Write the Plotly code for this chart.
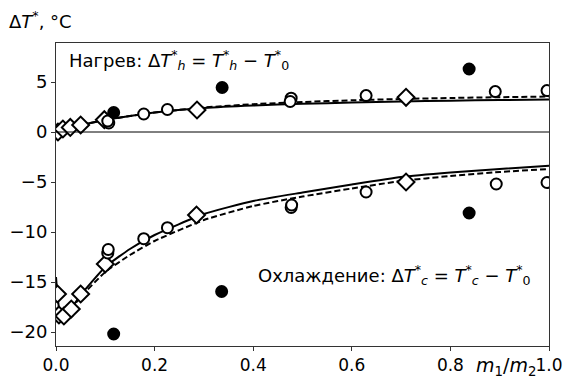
import plotly.graph_objects as go

# ---- data ----
# heating (Нагрев)
heat_filled_x = [0.117, 0.337, 0.838]
heat_filled_y = [1.95, 4.45, 6.3]
heat_open_x = [0.107, 0.105, 0.178, 0.226, 0.477, 0.475, 0.629, 0.891, 0.996]
heat_open_y = [0.9, 1.1, 1.8, 2.25, 3.38, 3.05, 3.64, 4.04, 4.14]
heat_diam_x = [0.004, 0.014, 0.029, 0.05, 0.098, 0.286, 0.71]
heat_diam_y = [0.0, 0.3, 0.46, 0.7, 1.23, 2.2, 3.47]
heat_line_x = [0.0, 0.01, 0.025, 0.05, 0.1, 0.15, 0.2, 0.3, 0.4, 0.5, 0.6, 0.7, 0.8, 0.9, 1.0]
heat_solid_y = [0.0, 0.2, 0.4, 0.7, 1.2, 1.6, 1.95, 2.4, 2.65, 2.82, 2.95, 3.05, 3.13, 3.2, 3.25]
heat_dash_y = [0.0, 0.2, 0.4, 0.7, 1.2, 1.6, 1.95, 2.45, 2.78, 3.0, 3.17, 3.3, 3.4, 3.48, 3.55]

# cooling (Охлаждение)
cool_filled_x = [0.117, 0.336, 0.838]
cool_filled_y = [-20.2, -15.95, -8.1]
cool_open_x = [0.105, 0.106, 0.178, 0.226, 0.477, 0.478, 0.629, 0.893, 0.996]
cool_open_y = [-12.1, -11.75, -10.67, -9.57, -7.55, -7.3, -6.0, -5.2, -5.05]
cool_diam_x = [0.003, 0.006, 0.016, 0.031, 0.05, 0.1, 0.285, 0.71]
cool_diam_y = [-16.2, -18.3, -18.4, -17.7, -16.2, -13.2, -8.3, -5.0]
cool_solid_x = [0.0, 0.004, 0.008, 0.012, 0.02, 0.05, 0.1, 0.15, 0.2, 0.3, 0.4, 0.5, 0.6, 0.7, 0.8, 0.9, 1.0]
cool_solid_y = [-14.5, -16.8, -18.2, -18.7, -18.4, -16.3, -13.5, -11.7, -10.3, -8.2, -6.9, -6.05, -5.25, -4.5, -4.05, -3.7, -3.38]
cool_dash_x = [0.0, 0.012, 0.02, 0.05, 0.1, 0.15, 0.2, 0.3, 0.4, 0.5, 0.6, 0.7, 0.8, 0.9, 1.0]
cool_dash_y = [-18.7, -18.6, -18.3, -16.5, -14.0, -12.3, -10.9, -8.8, -7.4, -6.45, -5.65, -4.9, -4.4, -4.0, -3.7]

x_ticks = [0.0, 0.2, 0.4, 0.6, 0.8, 1.0]
y_ticks = [-20, -15, -10, -5, 0, 5]

FONT = "DejaVu Sans"
fig = go.Figure()

def line(x, y, dash):
    fig.add_trace(go.Scatter(x=x, y=y, mode="lines",
                             line=dict(color="black", width=2, dash=dash, shape="spline", smoothing=0.5),
                             showlegend=False, hoverinfo="skip", cliponaxis=True))

line(heat_line_x, heat_solid_y, "solid")
line(heat_line_x, heat_dash_y, "6px,3px")
line(cool_solid_x, cool_solid_y, "solid")
line(cool_dash_x, cool_dash_y, "6px,3px")

def pts(x, y, symbol, fill, size):
    fig.add_trace(go.Scatter(x=x, y=y, mode="markers",
                             marker=dict(symbol=symbol, size=size, color=fill,
                                         line=dict(color="black", width=2)),
                             showlegend=False, cliponaxis=True))

pts(heat_diam_x, heat_diam_y, "diamond", "white", 13)
pts(cool_diam_x, cool_diam_y, "diamond", "white", 13)
pts(heat_open_x, heat_open_y, "circle", "white", 11)
pts(cool_open_x, cool_open_y, "circle", "white", 11)
pts(heat_filled_x, heat_filled_y, "circle", "black", 11)
pts(cool_filled_x, cool_filled_y, "circle", "black", 11)

fig.add_shape(type="line", xref="paper", x0=0, x1=1, yref="y", y0=0, y1=0,
              line=dict(color="black", width=1))

axis_common = dict(showline=True, mirror=True, linecolor="#333", linewidth=1,
                   ticks="outside", ticklen=4, tickcolor="#333", showgrid=False,
                   zeroline=False, automargin=False)
fig.update_xaxes(range=[0, 1.0], tickvals=x_ticks, tickformat=".1f",
                 tickfont=dict(family=FONT, size=17, color="black"), **axis_common)
fig.update_yaxes(range=[-21.4, 8.9], tickvals=y_ticks,
                 tickfont=dict(family=FONT, size=18, color="black"), **axis_common)

ann_font = dict(family=FONT, size=18, color="black")
fig.add_annotation(xref="paper", yref="paper", x=0.022, y=0.943, xanchor="left", yanchor="middle",
                   text="Нагрев: Δ<i>T</i><sup>*</sup><sub><i>h</i></sub> = <i>T</i><sup>*</sup><sub><i>h</i></sub> − <i>T</i><sup>*</sup><sub>0</sub>",
                   showarrow=False, font=ann_font)
fig.add_annotation(xref="paper", yref="paper", x=0.968, y=0.234, xanchor="right", yanchor="middle",
                   text="Охлаждение: Δ<i>T</i><sup>*</sup><sub><i>c</i></sub> = <i>T</i><sup>*</sup><sub><i>c</i></sub> − <i>T</i><sup>*</sup><sub>0</sub>",
                   showarrow=False, font=ann_font)
fig.add_annotation(xref="paper", yref="paper", x=-0.1, y=1.075, xanchor="left", yanchor="middle",
                   text="Δ<i>T</i><sup>*</sup>, °C", showarrow=False, font=ann_font)
fig.add_annotation(xref="paper", yref="paper", x=0.912, y=-0.068, xanchor="center", yanchor="middle",
                   text="<i>m</i><sub>1</sub>/<i>m</i><sub>2</sub>", showarrow=False,
                   font=dict(family=FONT, size=19, color="black"))

fig.update_layout(width=563, height=377, margin=dict(l=56, r=14, t=43, b=31),
                  paper_bgcolor="white", plot_bgcolor="white")
fig.write_html("out.html")
